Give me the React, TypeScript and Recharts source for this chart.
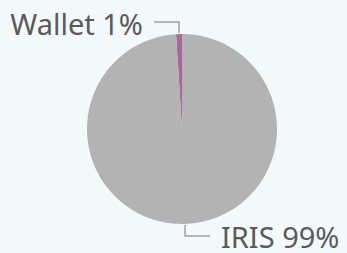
import { Cell, Pie, PieChart } from "recharts";

const names = ["Wallet", "IRIS"];
const shares = [1, 99];
const colors = ["#a8679c", "#b3b3b3"];

const data = names.map((name, i) => ({ name, value: shares[i] }));

const RAD = Math.PI / 180;

function ElbowLabel(props: any) {
  const { cx, cy, midAngle, outerRadius, name, value } = props;
  const cos = Math.cos(-midAngle * RAD);
  const sin = Math.sin(-midAngle * RAD);
  const sx = cx + (outerRadius + 1) * cos;
  const sy = cy + (outerRadius + 1) * sin;
  const ey = cy + (outerRadius + 12) * sin;
  const dir = cos >= 0 ? 1 : -1;
  const ex = sx + dir * 25;
  return (
    <g>
      <path d={`M${sx},${sy}L${sx},${ey}L${ex},${ey}`} stroke="#a0a0a0" strokeWidth={1.5} fill="none" />
      <text
        x={ex + dir * 11}
        y={ey + 1}
        textAnchor={dir > 0 ? "start" : "end"}
        dominantBaseline="central"
        fill="#5a5a5a"
        fontSize={29}
        fontFamily="'Noto Sans', sans-serif"
      >
        {`${name} ${value}%`}
      </text>
    </g>
  );
}

export default function App() {
  return (
    <div style={{ position: "absolute", left: 0, top: 0, width: 347, height: 253, background: "#f3f8fb" }}>
      <PieChart width={347} height={253} margin={{ top: 0, right: 0, bottom: 0, left: 0 }}>
        <Pie
          data={data}
          dataKey="value"
          nameKey="name"
          cx={182}
          cy={129}
          outerRadius={95}
          startAngle={90}
          endAngle={450}
          stroke="none"
          label={ElbowLabel}
          labelLine={false}
          isAnimationActive={false}
        >
          {data.map((d, i) => (
            <Cell key={d.name} fill={colors[i]} />
          ))}
        </Pie>
      </PieChart>
    </div>
  );
}
